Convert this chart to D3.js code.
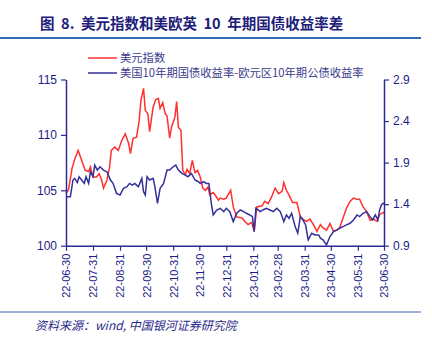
<!DOCTYPE html>
<html>
<head>
<meta charset="utf-8">
<script src="https://cdn.jsdelivr.net/npm/d3@7"></script>
<style>
  body { margin: 0; background: #fff; }
  svg { display: block; font-family: "Liberation Sans", Arial, sans-serif; }
</style>
</head>
<body>
<svg id="drawing_region"></svg>
<script>
// 美元指数
const usdDates = ["2022-06-30","2022-07-03","2022-07-07","2022-07-10","2022-07-14","2022-07-18","2022-07-22","2022-07-26","2022-07-28","2022-07-31",
  "2022-08-04","2022-08-07","2022-08-10","2022-08-12","2022-08-16","2022-08-19","2022-08-21","2022-08-25","2022-08-29","2022-09-02",
  "2022-09-06","2022-09-10","2022-09-12","2022-09-15","2022-09-19","2022-09-22","2022-09-24","2022-09-27","2022-09-29","2022-10-02",
  "2022-10-04","2022-10-08","2022-10-11","2022-10-14","2022-10-16","2022-10-19","2022-10-22","2022-10-24","2022-10-27","2022-10-29",
  "2022-11-02","2022-11-04","2022-11-06","2022-11-09","2022-11-11","2022-11-14","2022-11-16","2022-11-19","2022-11-22","2022-11-25",
  "2022-11-28","2022-12-01","2022-12-04","2022-12-07","2022-12-10","2022-12-12","2022-12-16","2022-12-18","2022-12-22","2022-12-24",
  "2022-12-28","2022-12-31","2023-01-05","2023-01-08","2023-01-12","2023-01-18","2023-01-21","2023-01-25","2023-01-29","2023-02-01",
  "2023-02-04","2023-02-10","2023-02-13","2023-02-17","2023-02-21","2023-02-25","2023-03-01","2023-03-05","2023-03-07","2023-03-10",
  "2023-03-14","2023-03-17","2023-03-22","2023-03-26","2023-03-29","2023-04-02","2023-04-06","2023-04-10","2023-04-14","2023-04-18",
  "2023-04-21","2023-04-25","2023-04-29","2023-05-03","2023-05-07","2023-05-10","2023-05-14","2023-05-18","2023-05-22","2023-05-26",
  "2023-05-30","2023-06-02","2023-06-06","2023-06-10","2023-06-14","2023-06-18","2023-06-22","2023-06-25","2023-06-29","2023-06-30"];
const usdValues = [104.7,105.1,107.0,107.8,108.6,107.7,106.8,106.7,107.1,106.2,
  106.2,106.5,105.9,105.2,105.9,107.1,108.6,108.9,108.6,109.5,
  110.1,109.2,108.3,109.7,109.8,111.3,113.1,114.2,112.2,111.9,
  110.3,112.5,113.2,113.3,112.4,112.9,111.9,111.7,109.7,110.7,
  111.6,113.0,110.7,110.4,106.8,106.4,106.9,106.5,107.7,106.6,
  106.8,106.2,105.2,105.0,105.3,104.6,104.8,104.6,104.1,104.3,
  104.2,104.3,105.0,103.5,102.6,102.5,102.2,101.9,102.1,101.3,
  103.5,103.6,104.0,103.8,104.4,105.2,104.7,104.9,105.7,105.0,
  104.4,103.9,103.9,102.6,102.4,102.2,102.4,101.9,101.3,101.9,
  101.6,101.4,102.0,101.3,101.4,101.6,102.5,103.4,104.0,104.3,
  104.2,104.2,103.5,103.1,102.3,102.4,102.2,102.8,103.0,102.9];

// 美国10年期国债收益率-欧元区10年期公债收益率
const spreadDates = ["2022-06-30","2022-07-05","2022-07-08","2022-07-10","2022-07-13","2022-07-15","2022-07-18","2022-07-21","2022-07-23","2022-07-26",
  "2022-07-28","2022-07-31","2022-08-02","2022-08-05","2022-08-08","2022-08-12","2022-08-16","2022-08-20","2022-08-23","2022-08-27",
  "2022-08-31","2022-09-04","2022-09-08","2022-09-11","2022-09-14","2022-09-17","2022-09-21","2022-09-25","2022-09-27","2022-09-29",
  "2022-10-01","2022-10-04","2022-10-08","2022-10-10","2022-10-13","2022-10-16","2022-10-20","2022-10-24","2022-10-27","2022-10-31",
  "2022-11-03","2022-11-06","2022-11-10","2022-11-14","2022-11-17","2022-11-21","2022-11-25","2022-11-29","2022-12-01","2022-12-05",
  "2022-12-08","2022-12-11","2022-12-14","2022-12-16","2022-12-20","2022-12-24","2022-12-28","2022-12-31","2023-01-04","2023-01-08",
  "2023-01-12","2023-01-16","2023-01-20","2023-01-23","2023-01-27","2023-01-30","2023-02-01","2023-02-03","2023-02-08","2023-02-11",
  "2023-02-15","2023-02-19","2023-02-23","2023-02-27","2023-03-03","2023-03-05","2023-03-07","2023-03-10","2023-03-13","2023-03-16",
  "2023-03-20","2023-03-23","2023-03-26","2023-03-29","2023-04-01","2023-04-04","2023-04-08","2023-04-12","2023-04-16","2023-04-18",
  "2023-04-21","2023-04-25","2023-04-29","2023-05-03","2023-05-07","2023-05-10","2023-05-14","2023-05-18","2023-05-22","2023-05-26",
  "2023-05-30","2023-06-02","2023-06-06","2023-06-10","2023-06-14","2023-06-17","2023-06-20","2023-06-23","2023-06-25","2023-06-27",
  "2023-06-29","2023-06-30"];
const spreadValues = [1.49,1.49,1.69,1.71,1.66,1.73,1.69,1.65,1.73,1.65,
  1.79,1.73,1.87,1.81,1.85,1.81,1.79,1.69,1.65,1.53,
  1.51,1.59,1.61,1.65,1.63,1.65,1.61,1.71,1.55,1.51,
  1.73,1.69,1.71,1.61,1.41,1.59,1.65,1.81,1.81,1.85,
  1.87,1.81,1.77,1.75,1.73,1.77,1.69,1.67,1.65,1.67,
  1.65,1.65,1.39,1.27,1.33,1.35,1.31,1.35,1.31,1.19,
  1.29,1.33,1.31,1.29,1.27,1.25,1.07,1.35,1.31,1.33,
  1.35,1.33,1.31,1.35,1.31,1.25,1.19,1.27,1.23,1.29,
  1.13,1.05,1.25,1.21,1.15,0.97,1.05,1.03,1.03,0.99,
  0.97,0.91,1.01,1.07,1.09,1.11,1.13,1.15,1.17,1.21,
  1.27,1.25,1.29,1.31,1.25,1.21,1.27,1.21,1.33,1.39,
  1.41,1.40];

const xTickLabels = ["22-06-30","22-07-31","22-08-31","22-09-30","22-10-31","22-11-30","22-12-31",
  "23-01-31","23-02-28","23-03-31","23-04-30","23-05-31","23-06-30"];
const leftTicks = [100, 105, 110, 115];
const rightTicks = [0.9, 1.4, 1.9, 2.4, 2.9];
const seriesNames = ["美元指数", "美国10年期国债收益率-欧元区10年期公债收益率"];

const parse = d3.timeParse("%Y-%m-%d");
const parseTick = d3.timeParse("%y-%m-%d");
const usd = usdDates.map((d, i) => ({ date: parse(d), value: usdValues[i] }));
const spread = spreadDates.map((d, i) => ({ date: parse(d), value: spreadValues[i] }));

const W = 432, H = 339;
const margin = { top: 79.5, right: 48, bottom: 93.3, left: 66 };
const axisColor = "#2e2a94";
const textColor = "#1c1c88";
const red = "#ff3030";
const blue = "#34309a";

const svg = d3.select("#drawing_region").attr("width", W).attr("height", H);

// title & rules
svg.append("text")
  .attr("x", 40).attr("y", 29)
  .attr("font-family", "'Noto Sans CJK SC', sans-serif")
  .attr("font-size", "14.5px").attr("font-weight", "bold")
  .attr("fill", "#20207a")
  .style("white-space", "pre")
  .text("图  8.  美元指数和美欧英  10  年期国债收益率差");
svg.append("line").attr("x1", 0).attr("x2", 421).attr("y1", 38).attr("y2", 38)
  .attr("stroke", "#2f6db2").attr("stroke-width", 2);
svg.append("line").attr("x1", 0).attr("x2", 421).attr("y1", 312).attr("y2", 312)
  .attr("stroke", "#2f6db2").attr("stroke-width", 1);
svg.append("text")
  .attr("x", 35).attr("y", 330)
  .attr("font-family", "'Noto Sans CJK SC', sans-serif")
  .attr("font-size", "12px").attr("font-style", "italic")
  .attr("fill", "#2a2a8a")
  .text("资料来源：wind, 中国银河证券研究院");

const innerW = W - margin.left - margin.right;
const innerH = H - margin.top - margin.bottom;
const chart = svg.append("g").attr("transform", `translate(${margin.left},${margin.top})`);

const xscale = d3.scaleTime()
  .domain([parse("2022-06-30"), parse("2023-06-30")])
  .range([0, innerW]);
const yLeft = d3.scaleLinear().domain([100, 115]).range([innerH, 0]);
const yRight = d3.scaleLinear().domain([0.9, 2.9]).range([innerH, 0]);

const xaxis = d3.axisBottom(xscale)
  .tickValues(xTickLabels.map(parseTick))
  .tickFormat(d3.timeFormat("%y-%m-%d"))
  .tickSizeInner(5).tickSizeOuter(0);
const leftAxis = d3.axisLeft(yLeft).tickValues(leftTicks).tickSizeInner(5).tickSizeOuter(0);
const rightAxis = d3.axisRight(yRight).tickValues(rightTicks).tickFormat(d3.format(".1f"))
  .tickSizeInner(5).tickSizeOuter(0);

function styleAxis(g) {
  g.select(".domain").attr("stroke", axisColor).attr("stroke-width", 1.5);
  g.selectAll(".tick line").attr("stroke", axisColor).attr("stroke-width", 1.2);
  g.selectAll(".tick text").attr("fill", textColor)
    .attr("font-family", "'Liberation Sans', Arial, sans-serif");
}

const lineUsd = d3.line().x(d => xscale(d.date)).y(d => yLeft(d.value));
const lineSpread = d3.line().x(d => xscale(d.date)).y(d => yRight(d.value));

chart.append("path").attr("d", lineUsd(usd))
  .attr("fill", "none").attr("stroke", red).attr("stroke-width", 1.5);
chart.append("path").attr("d", lineSpread(spread))
  .attr("fill", "none").attr("stroke", blue).attr("stroke-width", 1.5);

const xg = chart.append("g").attr("transform", `translate(0,${innerH})`).call(xaxis);
styleAxis(xg);
xg.selectAll(".tick text")
  .attr("font-size", "11px")
  .attr("transform", "rotate(-90)")
  .attr("text-anchor", "end")
  .attr("x", -8).attr("y", 0).attr("dy", "0.35em");

const lg = chart.append("g").call(leftAxis);
styleAxis(lg);
lg.selectAll(".tick text").attr("font-size", "12px").attr("x", -9);

const rg = chart.append("g").attr("transform", `translate(${innerW},0)`).call(rightAxis);
styleAxis(rg);
rg.selectAll(".tick text").attr("font-size", "12px").attr("x", 9);

// legend
const legend = svg.append("g").attr("transform", "translate(88,58)");
[red, blue].forEach((c, i) => {
  const row = legend.append("g").attr("transform", `translate(0,${i * 15})`);
  row.append("line").attr("x1", 0).attr("x2", 29).attr("y1", 0).attr("y2", 0)
    .attr("stroke", c).attr("stroke-width", 1.5);
  row.append("text").attr("x", 32).attr("y", 0).attr("dy", "0.35em")
    .attr("font-family", "'Noto Sans CJK SC', sans-serif")
    .attr("font-size", "11.3px").attr("fill", "#3b3b8c")
    .text(seriesNames[i]);
});
</script>
</body>
</html>
